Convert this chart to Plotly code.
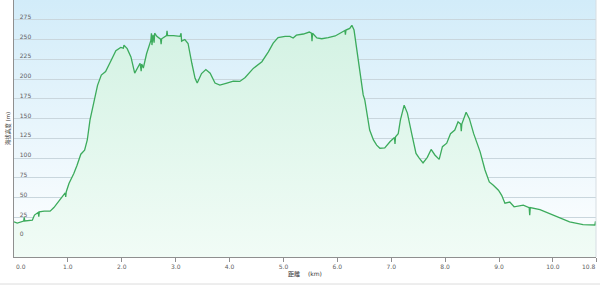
import base64
import plotly.graph_objects as go

# ---- data ----
distance_km = [
    0.00, 0.06, 0.18, 0.19, 0.20, 0.34, 0.38, 0.45, 0.46, 0.47, 0.56, 0.67, 0.74, 0.87,
    0.95, 0.96, 0.97, 1.02, 1.11, 1.17, 1.24, 1.31, 1.36, 1.41, 1.48, 1.55, 1.62,
    1.70, 1.79, 1.89, 1.98, 2.03, 2.04, 2.10, 2.17, 2.24, 2.34, 2.36, 2.37, 2.40,
    2.46, 2.54, 2.55, 2.56, 2.58, 2.60, 2.61, 2.65, 2.72, 2.73, 2.74, 2.83, 2.84,
    2.85, 2.96, 3.08, 3.10, 3.11, 3.17, 3.23, 3.30, 3.36, 3.40, 3.48, 3.56, 3.64,
    3.73, 3.82, 3.95, 4.07, 4.19, 4.29, 4.44, 4.60, 4.72, 4.81, 4.90, 5.03, 5.12,
    5.18, 5.24, 5.37, 5.48, 5.52, 5.53, 5.54, 5.62, 5.71, 5.83, 5.96, 6.05, 6.14,
    6.15, 6.16, 6.23, 6.27, 6.31, 6.36, 6.42, 6.48, 6.51, 6.57, 6.60, 6.67, 6.73,
    6.79, 6.88, 6.98, 7.06, 7.07, 7.08, 7.13, 7.17, 7.24, 7.30, 7.38, 7.46, 7.52,
    7.59, 7.67, 7.74, 7.81, 7.89, 7.95, 8.03, 8.10, 8.18, 8.24, 8.29, 8.30, 8.31,
    8.39, 8.45, 8.53, 8.65, 8.74, 8.82, 8.89, 8.99, 9.05, 9.11, 9.20, 9.28, 9.45,
    9.56, 9.57, 9.58, 9.76, 9.94, 10.12, 10.31, 10.56, 10.78, 10.79, 10.80,
]
elevation_m = [
    19.5, 18.0, 20.5, 25.0, 20.5, 21.5, 28.0, 31.5, 26.0, 32.0, 33.0, 33.0, 37.5, 49.0,
    56.0, 51.0, 57.5, 68.0, 80.5, 91.0, 105.0, 110.0, 123.0, 148.0, 170.0, 192.0, 205.0,
    209.5, 222.0, 236.0, 240.0, 239.0, 243.0, 238.5, 228.0, 207.5, 220.0, 210.0, 219.0, 214.0,
    232.0, 249.0, 258.0, 243.0, 256.0, 246.0, 258.0, 254.0, 250.5, 244.0, 251.0, 255.0, 261.0,
    255.0, 255.0, 254.0, 258.0, 248.0, 250.0, 245.0, 220.0, 201.0, 195.0, 207.0, 212.0, 207.5,
    195.0, 192.5, 195.0, 197.5, 197.0, 202.0, 213.5, 222.0, 234.5, 245.5, 252.5, 254.0, 254.0,
    252.0, 255.5, 257.0, 259.5, 258.0, 248.0, 258.0, 252.0, 251.0, 252.5, 254.5, 258.0, 261.5,
    256.0, 262.0, 264.0, 268.0, 262.0, 239.0, 209.5, 180.0, 173.5, 144.0, 135.5, 123.0, 116.5,
    112.5, 113.0, 121.0, 126.0, 118.0, 127.0, 131.0, 148.0, 167.0, 157.0, 131.0, 106.0, 100.0,
    94.0, 101.0, 111.0, 104.0, 98.5, 114.5, 119.0, 131.0, 135.5, 146.0, 143.0, 134.0, 143.0,
    158.0, 150.0, 131.0, 108.0, 85.0, 70.0, 66.0, 59.5, 53.0, 43.0, 44.5, 38.5, 40.5,
    37.5, 28.0, 37.5, 35.0, 30.0, 24.0, 19.5, 16.0, 15.5, 20.0, 15.0,
]

x_tick_values = [0, 1, 2, 3, 4, 5, 6, 7, 8, 9, 10, 10.8]
x_tick_labels = ["", "1.0", "2.0", "3.0", "4.0", "5.0", "6.0", "7.0", "8.0", "9.0", "10.0", ""]
y_tick_values = [0, 25, 50, 75, 100, 125, 150, 175, 200, 225, 250, 275]
y_tick_labels = [str(v) for v in y_tick_values]

x_range = [0, 10.8]
y_range = [-25, 300]

FONT = "DejaVu Sans, Noto Sans CJK TC, sans-serif"
LABEL_COLOR = "#606060"

# background gradient image for the plot area
svg = (
    '<svg xmlns="http://www.w3.org/2000/svg" width="100" height="100" preserveAspectRatio="none">'
    '<defs><linearGradient id="g" x1="0" y1="0" x2="0" y2="1">'
    '<stop offset="0" stop-color="#d2ecf9"/><stop offset="1" stop-color="#ffffff"/>'
    '</linearGradient></defs><rect width="100" height="100" fill="url(#g)"/></svg>'
)
bg_src = "data:image/svg+xml;base64," + base64.b64encode(svg.encode()).decode()

fig = go.Figure()

# baseline at the bottom of the axis so the area reaches the x axis line
fig.add_trace(go.Scatter(
    x=distance_km, y=[y_range[0]] * len(distance_km), mode="lines",
    line=dict(width=0, color="rgba(0,0,0,0)"), hoverinfo="skip", showlegend=False,
))
fig.add_trace(go.Scatter(
    x=distance_km, y=elevation_m, mode="lines",
    line=dict(color="#3cab5c", width=1.3),
    fill="tonexty",
    fillgradient=dict(
        type="vertical",
        colorscale=[[0, "#f1fcf6"], [1, "#d3f2e3"]],
        start=y_range[0], stop=270,
    ),
    showlegend=False,
))

fig.update_layout(
    width=600, height=285,
    margin=dict(l=14, r=4, t=0, b=28),
    paper_bgcolor="white",
    plot_bgcolor="rgba(0,0,0,0)",
    font=dict(family=FONT, size=6, color=LABEL_COLOR),
    images=[dict(
        source=bg_src, xref="paper", yref="paper", x=0, y=1,
        sizex=1, sizey=1, sizing="stretch", layer="below",
        xanchor="left", yanchor="top",
    )],
    xaxis=dict(
        range=x_range, tickvals=x_tick_values, ticktext=x_tick_labels,
        showgrid=False, zeroline=False,
        showline=True, linecolor="#8f8f8f", linewidth=1,
        ticks="outside", ticklen=4, tickcolor="#8f8f8f",
        tickfont=dict(size=6, color=LABEL_COLOR),
        title=dict(text="距離\u3000 (km)", font=dict(size=6, color="#333333"), standoff=2),
    ),
    yaxis=dict(
        range=y_range, tickvals=y_tick_values, ticktext=y_tick_labels,
        showgrid=True, gridcolor="#c9d6dd", gridwidth=1, zeroline=False,
        showline=True, linecolor="#8f8f8f", linewidth=1,
        ticks="", ticklabelposition="inside", ticklabelshift=-3, ticklabelstandoff=4,
        tickfont=dict(size=6, color=LABEL_COLOR),
        title=dict(text="海拔高度 (m)", font=dict(size=5.5, color="#333333"), standoff=8),
    ),
    annotations=[
        dict(text="0.0", x=x_tick_values[0], xref="x", xanchor="left", y=0, yref="paper",
             yanchor="top", yshift=-4, showarrow=False, font=dict(size=6, color=LABEL_COLOR)),
        dict(text="10.8", x=x_tick_values[-1], xref="x", xanchor="right", xshift=2, y=0,
             yref="paper", yanchor="top", yshift=-4, showarrow=False,
             font=dict(size=6, color=LABEL_COLOR)),
    ],
    shapes=[
        dict(type="line", xref="paper", yref="paper", x0=1, x1=1, y0=0, y1=1,
             line=dict(color="#d6dde2", width=1)),
        dict(type="line", xref="paper", yref="paper", x0=-14 / 582, x1=1 + 4 / 582,
             y0=-27 / 257, y1=-27 / 257, line=dict(color="#dcdcdc", width=1)),
    ],
)

fig.write_html("out.html")
